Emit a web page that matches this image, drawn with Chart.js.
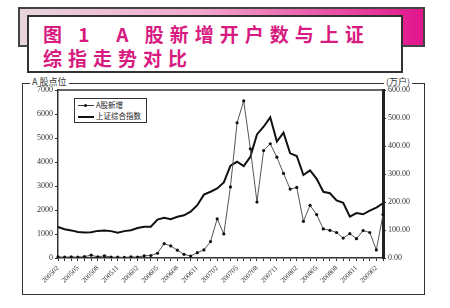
<!DOCTYPE html>
<html>
<head>
<meta charset="utf-8">
<script src="https://cdn.jsdelivr.net/npm/chart.js@4"></script>
<style>
  body { margin: 0; background: #fff; }
  #wrap { position: relative; width: 450px; height: 308px; overflow: hidden; }
  #bar { position: absolute; left: 18px; top: 7px; width: 403px; height: 36px;
         border: 2px solid #444;
         background: linear-gradient(to right, #e8d6de, #f2a6cc 45%, #e2158c); }
  #titlebox { position: absolute; left: 27px; top: 15px; width: 372px; height: 54px;
              border: 2px solid #333; background: #fff; }
  #titlebox div { position: absolute; left: 14px; color: #d81b80; font: bold 19px "Noto Sans CJK SC";
                  letter-spacing: 6px; white-space: nowrap; }
  #frame { position: absolute; left: 22px; top: 83px; width: 401px; height: 210px; border: 1px solid #333; }
  .axt { position: absolute; top: 75px; background: #fff; font: 9px "Noto Sans CJK SC"; color: #333; padding: 0 2px; }
  #legend { position: absolute; left: 74px; top: 98px; width: 71px; height: 23px; border: 1px solid #333;
            background: #fff; font: 7.5px "Noto Sans CJK SC"; color: #222; z-index: 2; }
  #legend .row { position: absolute; left: 3px; height: 10px; line-height: 10px; white-space: nowrap; }
  #legend .ln { display: inline-block; width: 16px; vertical-align: middle; margin-right: 2px; position: relative; }
  canvas { position: absolute; left: 0; top: 0; z-index: 1; }
</style>
</head>
<body>
<div id="wrap">
  <div id="bar"></div>
  <div id="titlebox">
    <div style="top:3px">图 1&nbsp;&nbsp;A 股新增开户数与上证</div>
    <div style="top:27px">综指走势对比</div>
  </div>
  <div id="frame"></div>
  <div class="axt" style="left:30px">A 股点位</div>
  <div class="axt" style="left:384px">(万户)</div>
  <div id="legend">
    <div class="row" style="top:1px"><span class="ln" style="border-top:1px solid #333"><span style="position:absolute;left:6px;top:-2.5px;width:3px;height:3px;border-radius:50%;background:#111"></span></span>A股新增</div>
    <div class="row" style="top:12px"><span class="ln" style="border-top:2px solid #111"></span>上证综合指数</div>
  </div>
  <canvas id="c" width="450" height="308"></canvas>
</div>
<script>
// months 2005-02 .. 2009-03
const months = [];
for (let y = 2005; y <= 2009; y++) {
  for (let m = 1; m <= 12; m++) {
    if ((y === 2005 && m < 2) || (y === 2009 && m > 3)) continue;
    months.push(y + String(m).padStart(2, '0'));
  }
}

// 上证综合指数 (left axis, points)
const indexValues = [1290, 1200, 1150, 1080, 1060, 1070, 1130, 1150, 1120, 1050, 1120, 1160,
  1250, 1300, 1300, 1600, 1680, 1620, 1720, 1780, 1930, 2200, 2640, 2760,
  2900, 3150, 3850, 4010, 3830, 4220, 5150, 5470, 5860, 4850, 5220, 4360,
  4250, 3460, 3650, 3300, 2760, 2700, 2400, 2300, 1720, 1870, 1820, 1970,
  2100, 2280];

// A股新增开户数 (right axis, 万户)
const newAccounts = [4, 3, 4, 3, 5, 10, 4, 8, 3, 3, 2, 4,
  3, 8, 9, 17, 51, 43, 28, 13, 7, 19, 29, 59,
  140, 86, 254, 483, 561, 390, 200, 384, 408, 360, 302, 246,
  252, 131, 188, 155, 104, 99, 91, 71, 87, 69, 98, 91,
  29, 155];

const leftTicks = [0, 1000, 2000, 3000, 4000, 5000, 6000, 7000];
const rightTicks = [0, 100, 200, 300, 400, 500, 600];

const tickFont = { family: 'Liberation Serif', size: 8 };

// top edge of the plot box
const boxTop = {
  id: 'boxTop',
  afterDraw(chart) {
    const { ctx, chartArea } = chart;
    ctx.save();
    ctx.strokeStyle = '#333';
    ctx.lineWidth = 1.5;
    ctx.beginPath();
    ctx.moveTo(chartArea.left, chartArea.top);
    ctx.lineTo(chartArea.right, chartArea.top);
    ctx.stroke();
    ctx.restore();
  }
};

new Chart(document.getElementById('c'), {
  type: 'line',
  data: {
    labels: months,
    datasets: [
      {
        label: 'A股新增',
        data: newAccounts,
        yAxisID: 'y1',
        borderColor: '#555',
        borderWidth: 1,
        pointRadius: 1.6,
        pointBackgroundColor: '#111',
        pointBorderWidth: 0,
        tension: 0
      },
      {
        label: '上证综合指数',
        data: indexValues,
        yAxisID: 'y',
        borderColor: '#111',
        borderWidth: 2,
        pointRadius: 0,
        tension: 0
      }
    ]
  },
  options: {
    responsive: false,
    animation: false,
    layout: { padding: { top: 90, left: 0, right: 0, bottom: 0 } },
    plugins: { legend: { display: false }, tooltip: { enabled: false } },
    scales: {
      x: {
        offset: false,
        afterFit(s) { s.height = 50; },
        grid: { drawOnChartArea: false, tickLength: 3, color: '#333' },
        border: { color: '#333', width: 1.5 },
        ticks: {
          autoSkip: false, minRotation: 45, maxRotation: 45, padding: 3,
          font: { family: 'Liberation Serif', size: 7 }, color: '#333',
          callback: (v, i) => (i % 3 === 0 ? months[i] : '')
        }
      },
      y: {
        position: 'left',
        min: 0, max: 7000,
        afterFit(s) { s.width = 58; },
        afterBuildTicks(s) { s.ticks = leftTicks.map(v => ({ value: v })); },
        grid: { drawOnChartArea: false, tickLength: 3, color: '#333' },
        border: { color: '#333', width: 1.5 },
        ticks: { font: tickFont, color: '#333', padding: 2, callback: v => String(v) }
      },
      y1: {
        position: 'right',
        min: 0, max: 600,
        afterFit(s) { s.width = 67; },
        afterBuildTicks(s) { s.ticks = rightTicks.map(v => ({ value: v })); },
        grid: { drawOnChartArea: false, tickLength: 3, color: '#333' },
        border: { color: '#222', width: 3 },
        ticks: { font: tickFont, color: '#333', padding: 2, callback: v => v.toFixed(2) }
      }
    }
  },
  plugins: [boxTop]
});
</script>
</body>
</html>
